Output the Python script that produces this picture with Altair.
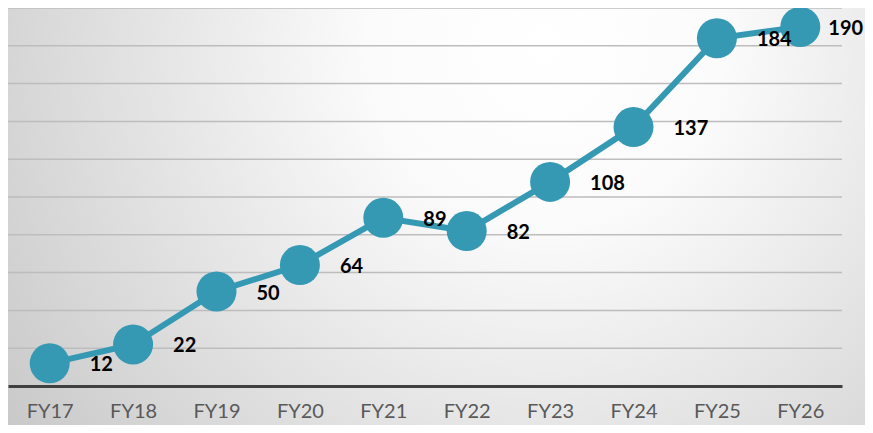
import altair as alt
import pandas as pd

categories = ["FY17", "FY18", "FY19", "FY20", "FY21", "FY22", "FY23", "FY24", "FY25", "FY26"]
values = [12, 22, 50, 64, 89, 82, 108, 137, 184, 190]
gridlines = [20, 40, 60, 80, 100, 120, 140, 160, 180, 200]

W = 834
H = 378
BLUE = "#3599b4"

df = pd.DataFrame({"fy": categories, "value": values})
grid_df = pd.DataFrame({"v": gridlines})
last = categories[-1]

xenc = alt.X(
    "fy:N",
    sort=categories,
    scale=alt.Scale(type="point", padding=0.5),
    axis=alt.Axis(
        title=None,
        labelAngle=0,
        ticks=False,
        domain=True,
        domainColor="#404040",
        domainWidth=3,
        labelFont="Lato",
        labelFontSize=20,
        labelColor="#595959",
        labelPadding=15,
        grid=False,
        zindex=1,
    ),
)
yscale = alt.Scale(domain=[0, 200], nice=False, zero=True)

bg = alt.Chart(pd.DataFrame({"a": [0]})).mark_rect(
    fill={
        "gradient": "radial",
        "x1": 0.62, "y1": 0.3, "r1": 0.0,
        "x2": 0.62, "y2": 0.3, "r2": 0.8,
        "stops": [
            {"offset": 0.0, "color": "#ffffff"},
            {"offset": 0.25, "color": "#fbfbfb"},
            {"offset": 1.0, "color": "#c4c4c4"},
        ],
    },
    stroke=None,
).encode(
    x=alt.value(-10), x2=alt.value(W + 40), y=alt.value(-10), y2=alt.value(H + 60)
)

grid = alt.Chart(grid_df).mark_rule(color="#bdbdbd", strokeWidth=1.5).encode(
    y=alt.Y("v:Q", scale=yscale, axis=None),
    x=alt.value(0),
    x2=alt.value(W),
)

base = alt.Chart(df).encode(
    x=xenc,
    y=alt.Y("value:Q", scale=yscale, axis=None),
)

line = base.mark_line(color=BLUE, strokeWidth=6)
pts = base.mark_circle(color=BLUE, size=1600, opacity=1)
text_style = dict(
    align="left", baseline="middle", dy=2,
    font="Lato", fontSize=20, fontWeight="bold", color="#000000",
)
labels = base.transform_filter(alt.datum.fy != last).mark_text(dx=40, **text_style).encode(text="value:Q")
label_last = base.transform_filter(alt.datum.fy == last).mark_text(dx=28, **text_style).encode(text="value:Q")

chart = alt.layer(bg, grid, line, pts, labels, label_last).properties(
    width=W,
    height=H,
    autosize=alt.AutoSizeParams(type="none"),
    padding={"left": 0, "top": 0, "right": 23, "bottom": 39},
).configure_view(stroke=None)

chart.save("out.html", embed_options={"renderer": "svg", "actions": False})
